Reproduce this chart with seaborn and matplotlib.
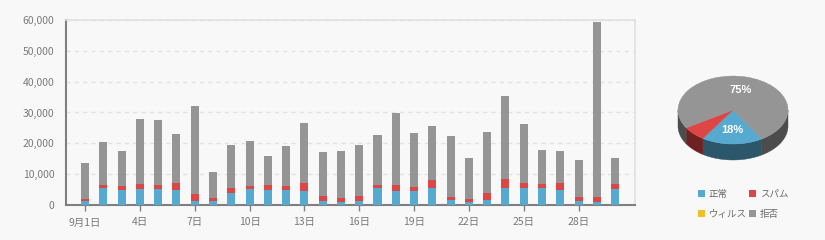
import numpy as np
import pandas as pd
import matplotlib
matplotlib.use("Agg")
import matplotlib.pyplot as plt
import seaborn as sns
from matplotlib.patches import Wedge, Polygon, Patch
from matplotlib.transforms import Affine2D

# ---------------- data ----------------
days = list(range(1, 31))
normal = [1200, 5600, 5000, 5300, 5300, 4900, 1400, 1200, 4000, 5300,
          4900, 4900, 4600, 1400, 1100, 1400, 5600, 4600, 4600, 5600,
          1700, 1100, 1700, 5600, 5600, 5600, 4900, 1400, 1100, 5300]
spam = [900, 1000, 1200, 1600, 1300, 2300, 2300, 1200, 1600, 1000,
        1600, 1300, 2600, 1600, 1300, 1600, 1000, 1900, 1300, 2600,
        1000, 1000, 2300, 2900, 1600, 1300, 2200, 1300, 1600, 1600]
virus = [0] * 30
reject = [11600, 13900, 11300, 21000, 21000, 15800, 28400, 8400, 13900, 14500,
          9400, 12900, 19400, 14200, 15200, 16500, 16100, 23200, 17400, 17400,
          19700, 13200, 19700, 26800, 19000, 11000, 10300, 11900, 56500, 8400]
tick_days = [1, 4, 7, 10, 13, 16, 19, 22, 25, 28]
tick_labels = ["9月1日", "4日", "7日", "10日", "13日", "16日", "19日", "22日", "25日", "28日"]
y_ticks = [0, 10000, 20000, 30000, 40000, 50000, 60000]
series_names = ["正常", "スパム", "ウィルス", "拒否"]
pie_shares = [18, 7, 0, 75]
pie_labels = ["18%", "", "", "75%"]

colors = ["#57aacf", "#de4545", "#f0bf22", "#959595"]
side_colors = ["#2c5669", "#6e2121", "#7a6010", "#4c4c4c"]
BG = "#f8f8f8"

sns.set_theme(style="white")
plt.rcParams["font.family"] = ["Noto Sans CJK JP", "DejaVu Sans"]

df = pd.DataFrame({"day": [str(d) for d in days],
                   "normal": normal, "spam": spam, "virus": virus, "reject": reject})
df["c1"] = df["normal"]
df["c2"] = df["c1"] + df["spam"]
df["c3"] = df["c2"] + df["virus"]
df["c4"] = df["c3"] + df["reject"]
order = df["day"].tolist()

fig = plt.figure(figsize=(8.25, 2.4), dpi=100, facecolor=BG)
ax = fig.add_axes([65.5 / 825, 35 / 240, (635 - 65.5) / 825, 185 / 240])
ax.set_facecolor(BG)

for col, c in zip(["c4", "c3", "c2", "c1"], colors[::-1]):
    sns.barplot(data=df, x="day", y=col, order=order, color=c, saturation=1,
                width=0.44, linewidth=0, ax=ax, zorder=3)

ax.set_xlim(-1.07, 30.09)
ax.set_ylim(0, 60000)
ax.set_xlabel("")
ax.set_ylabel("")
ax.set_xticks([order.index(str(d)) for d in tick_days])
ax.set_xticklabels(tick_labels)
ax.set_yticks(y_ticks)
ax.set_yticklabels([f"{v:,}" for v in y_ticks])
ax.tick_params(axis="x", length=4, width=1, color="#808080", colors="#7a7a7a",
               labelsize=7.5, pad=5, bottom=True)
ax.tick_params(axis="y", length=0, colors="#7a7a7a", labelsize=7.5, pad=8)
ax.yaxis.grid(True, linestyle=(0, (3, 3)), color="#e2e2e2", lw=1, zorder=0)
ax.xaxis.grid(False)
for s in ["left", "bottom"]:
    ax.spines[s].set_color("#7f7f7f")
    ax.spines[s].set_linewidth(1.5)
for s in ["top", "right"]:
    ax.spines[s].set_color("#e0e0e0")
    ax.spines[s].set_linewidth(1.2)

# ---------------- 3D pie ----------------
pax = fig.add_axes([660 / 825, 60 / 240, 150 / 825, 120 / 240])
pax.set_xlim(660, 810)
pax.set_ylim(60, 180)
pax.axis("off")
cx, cy, rx, ry, depth = 733, 130, 55, 34, 16
start = 301.6
total = float(sum(pie_shares))
angles = []
a = start
for v in pie_shares:
    span = v / total * 360
    angles.append((a - span, a))
    a -= span

tr = Affine2D().scale(rx, ry).translate(cx, cy) + pax.transData
# sides (front half only)
for (t1, t2), sc in zip(angles, side_colors):
    for k in range(-1, 2):
        lo = max(t1, 180 + 360 * k)
        hi = min(t2, 360 + 360 * k)
        if hi <= lo:
            continue
        th = np.radians(np.linspace(lo, hi, 60))
        xs = cx + rx * np.cos(th)
        ys = cy + ry * np.sin(th)
        pts = np.column_stack([np.r_[xs, xs[::-1]], np.r_[ys, ys[::-1] - depth]])
        pax.add_patch(Polygon(pts, closed=True, fc=sc, ec=sc, lw=0.3))
for (t1, t2), c in zip(angles, colors):
    if t2 - t1 <= 0:
        continue
    pax.add_patch(Wedge((0, 0), 1, t1, t2, fc=c, ec=c, lw=0.3, transform=tr))
for (t1, t2), lab in zip(angles, pie_labels):
    if not lab:
        continue
    mid = np.radians((t1 + t2) / 2)
    pax.text(cx + 0.6 * rx * np.cos(mid), cy + 0.6 * ry * np.sin(mid), lab,
             ha="center", va="center", color="white", fontsize=8, fontweight="bold",
             family=["Liberation Sans", "DejaVu Sans"])

handles = [Patch(fc=c, ec="none") for c in colors]
h_ord = [handles[0], handles[2], handles[1], handles[3]]
l_ord = [series_names[0], series_names[2], series_names[1], series_names[3]]
fig.legend(h_ord, l_ord, ncol=2, loc="upper left", bbox_to_anchor=(698 / 825, 1 - 189.5 / 240),
           frameon=False, fontsize=6.8, handlelength=0.78, handleheight=0.78,
           handletextpad=0.35, columnspacing=0.25, labelspacing=1.2,
           labelcolor="#6a6a6a", borderpad=0, borderaxespad=0)

fig.savefig("out.png", dpi=100, facecolor=BG)
